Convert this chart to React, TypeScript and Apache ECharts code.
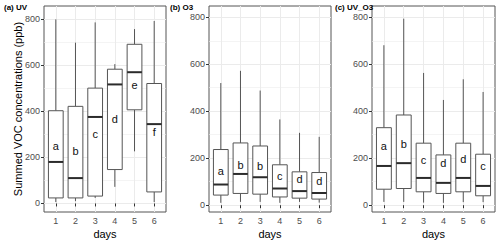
import React, { useEffect, useRef } from "react";
import * as echarts from "echarts";

// ---- data ----
const days = [1, 2, 3, 4, 5, 6];
const dayTicks = ["1", "2", "3", "4", "5", "6"];
const yMajorTicks = [0, 200, 400, 600, 800];
const yMinorTicks = [0, 100, 200, 300, 400, 500, 600, 700, 800];

// [lower whisker, Q1, median, Q3, upper whisker]
const uvStats = [
  [6, 24, 180, 402, 798],
  [10, 24, 110, 421, 697],
  [24, 32, 375, 500, 785],
  [72, 147, 516, 582, 604],
  [226, 406, 569, 690, 756],
  [6, 50, 344, 520, 791],
];
const uvLetters = ["a", "b", "c", "d", "e", "f"];
const uvLabelY = [248, 226, 301, 367, 512, 308];

const o3Stats = [
  [10, 43, 88, 237, 520],
  [14, 50, 133, 265, 572],
  [14, 47, 119, 252, 488],
  [10, 35, 71, 172, 365],
  [14, 30, 60, 142, 308],
  [11, 26, 52, 139, 291],
];
const o3Letters = ["a", "b", "b", "c", "d", "d"];
const o3LabelY = [145, 170, 166, 123, 113, 104];

const uvo3Stats = [
  [14, 68, 167, 330, 681],
  [14, 71, 179, 384, 794],
  [11, 57, 116, 264, 563],
  [10, 50, 95, 214, 448],
  [13, 57, 116, 264, 536],
  [13, 40, 82, 217, 482],
];
const uvo3Letters = ["a", "b", "c", "d", "d", "c"];
const uvo3LabelY = [252, 262, 191, 180, 196, 165];

const panelTitles = ["(a) UV", "(b) O3", "(c) UV_O3"];
const xTitle = "days";
const yTitle = "Summed VOC concentrations (ppb)";

const FONT = "Liberation Sans, Arial, sans-serif";

const panels = [
  { stats: uvStats, letters: uvLetters, labelY: uvLabelY, left: 44, width: 122, yMin: -37, yMax: 856, titleX: 4 },
  { stats: o3Stats, letters: o3Letters, labelY: o3LabelY, left: 209, width: 122, yMin: -29, yMax: 848, titleX: 170 },
  { stats: uvo3Stats, letters: uvo3Letters, labelY: uvo3LabelY, left: 372, width: 123, yMin: -29, yMax: 848, titleX: 335 },
];
const TOP = 6;
const HEIGHT = 206;

export default function App() {
  const ref = useRef<HTMLDivElement>(null);

  useEffect(() => {
    if (!ref.current) return;
    const chart = echarts.init(ref.current, undefined, { renderer: "svg" });

    const grid: any[] = [];
    const xAxis: any[] = [];
    const yAxis: any[] = [];
    const series: any[] = [];
    const graphic: any[] = [];

    panels.forEach((p, k) => {
      grid.push({
        left: p.left,
        top: TOP,
        width: p.width,
        height: HEIGHT,
        show: true,
        borderColor: "#555",
        borderWidth: 1,
        backgroundColor: "#fff",
        containLabel: false,
      });
      xAxis.push({
        type: "value",
        gridIndex: k,
        position: "bottom",
        min: 0.4,
        max: 6.6,
        axisLine: { show: false },
        axisTick: { show: true, customValues: days, length: 3, lineStyle: { color: "#333", width: 1 } },
        axisLabel: {
          customValues: days,
          formatter: (v: number) => dayTicks[Math.round(v) - 1] ?? "",
          color: "#4d4d4d",
          fontSize: 9,
          fontFamily: FONT,
          margin: 4,
        },
        splitLine: { show: true, customValues: days, lineStyle: { color: "#ebebeb", width: 1 } },
      });
      // minor grid axis
      yAxis.push({
        type: "value",
        gridIndex: k,
        position: "left",
        min: p.yMin,
        max: p.yMax,
        axisLine: { show: false },
        axisTick: { show: false, customValues: yMinorTicks },
        axisLabel: { show: false },
        splitLine: { show: true, customValues: yMinorTicks, lineStyle: { color: "#ededed", width: 0.6 } },
      });
      // major ticks / labels axis
      yAxis.push({
        type: "value",
        gridIndex: k,
        position: "left",
        offset: 0,
        min: p.yMin,
        max: p.yMax,
        axisLine: { show: false },
        axisTick: { show: true, customValues: yMajorTicks, length: 3, lineStyle: { color: "#333", width: 1 } },
        axisLabel: {
          customValues: yMajorTicks,
          color: "#4d4d4d",
          fontSize: 9,
          fontFamily: FONT,
          margin: 4,
        },
        splitLine: { show: true, customValues: yMajorTicks, lineStyle: { color: "#ebebeb", width: 1 } },
      });

      const letters = p.letters;
      series.push({
        type: "custom",
        xAxisIndex: k,
        yAxisIndex: 2 * k,
        z: 5,
        clip: false,
        itemStyle: { color: "#111" },
        encode: { x: 0, y: [1, 2, 3, 4, 5] },
        data: p.stats.map((s, i) => [days[i], ...s, p.labelY[i]]),
        renderItem: (params: any, api: any) => {
          const x = api.value(0);
          const lo = api.coord([x, api.value(1)]);
          const q1 = api.coord([x, api.value(2)]);
          const med = api.coord([x, api.value(3)]);
          const q3 = api.coord([x, api.value(4)]);
          const hi = api.coord([x, api.value(5)]);
          const lab = api.coord([x, api.value(6)]);
          const w = api.size([0.75, 0])[0];
          const cx = lo[0];
          const stroke = "#555";
          return {
            type: "group",
            children: [
              { type: "line", shape: { x1: cx, y1: hi[1], x2: cx, y2: q3[1] }, style: { stroke, lineWidth: 1 } },
              { type: "line", shape: { x1: cx, y1: q1[1], x2: cx, y2: lo[1] }, style: { stroke, lineWidth: 1 } },
              {
                type: "rect",
                shape: { x: cx - w / 2, y: q3[1], width: w, height: q1[1] - q3[1] },
                style: { fill: "#fff", stroke, lineWidth: 1 },
              },
              {
                type: "line",
                shape: { x1: cx - w / 2, y1: med[1], x2: cx + w / 2, y2: med[1] },
                style: { stroke: "#2b2b2b", lineWidth: 2 },
              },
              {
                type: "text",
                x: cx,
                y: lab[1],
                style: {
                  text: letters[params.dataIndex],
                  fill: "#111",
                  fontSize: 11,
                  fontFamily: FONT,
                  align: "center",
                  verticalAlign: "middle",
                },
              },
            ],
          };
        },
      });

      graphic.push({
        type: "text",
        left: p.titleX,
        top: 3,
        style: { text: panelTitles[k], fill: "#000", font: `bold 8px ${FONT}` },
        z: 100,
      });
      graphic.push({
        type: "text",
        x: p.left + p.width / 2,
        y: 234,
        style: { text: xTitle, fill: "#000", fontSize: 11, fontFamily: FONT, align: "center", verticalAlign: "middle" },
        z: 100,
      });
    });

    graphic.push({
      type: "text",
      x: 18,
      y: TOP + HEIGHT / 2,
      rotation: Math.PI / 2,
      style: { text: yTitle, fill: "#000", fontSize: 11, fontFamily: FONT, align: "center", verticalAlign: "middle" },
      z: 100,
    });

    chart.setOption({
      animation: false,
      backgroundColor: "#fff",
      grid,
      xAxis,
      yAxis,
      series,
      graphic,
    });

    return () => chart.dispose();
  }, []);

  return (
    <div
      ref={ref}
      style={{ position: "fixed", left: 0, top: 0, width: 500, height: 245 }}
    />
  );
}
